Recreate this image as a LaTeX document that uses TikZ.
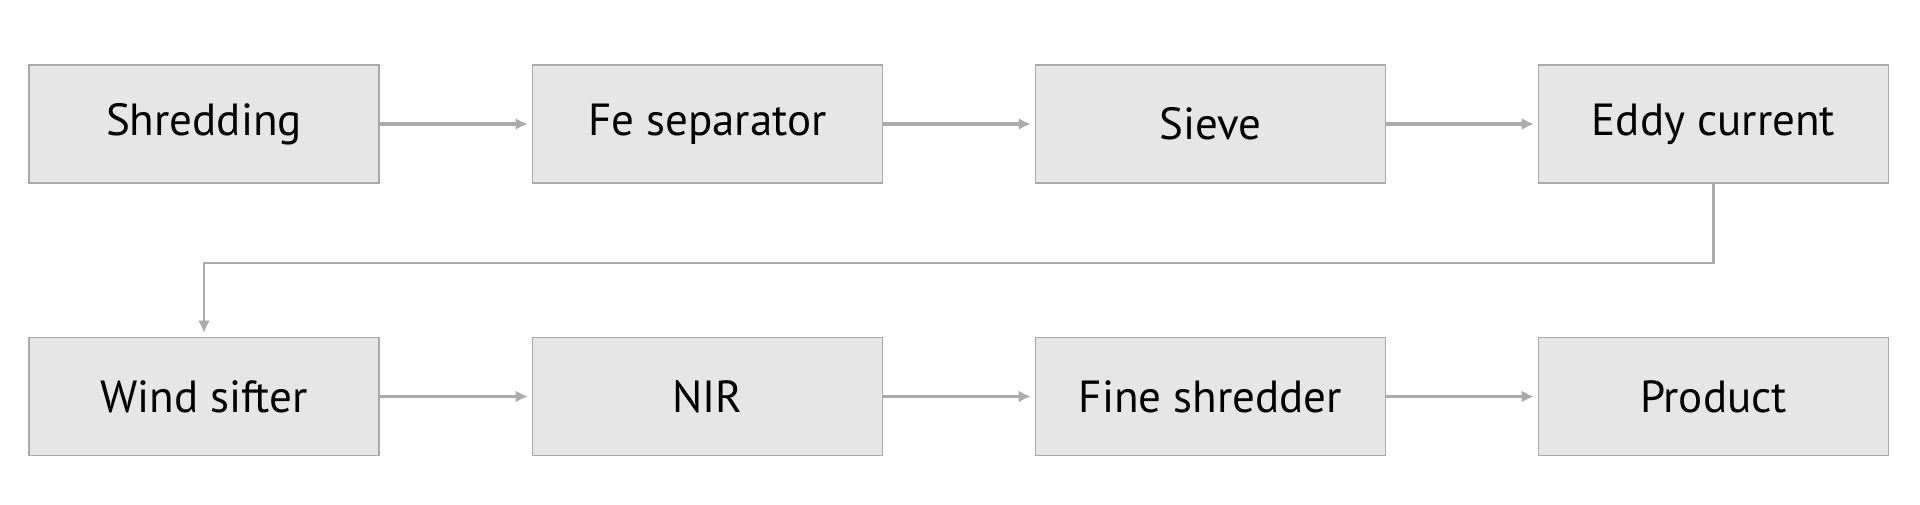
\documentclass[tikz,border=0pt]{standalone}
\usepackage{fontspec}
\setmainfont{PT Sans}
\usepackage{tikz}
\usetikzlibrary{arrows.meta}
\definecolor{boxfill}{HTML}{E6E6E6}
\definecolor{boxline}{HTML}{A9A9A9}
\definecolor{flowline}{HTML}{ABABAB}
\tikzset{
  stage/.style={draw=boxline,fill=boxfill,line width=0.8pt,minimum width=175pt,
    minimum height=59pt,inner sep=0pt,font=\fontsize{22.5}{27}\selectfont},
  flow/.style={draw=flowline,line width=1.8pt,-{Latex[length=6pt,width=6pt]},shorten >=2pt},
  loopback/.style={draw=flowline,line width=1.2pt,-{Latex[length=6pt,width=6pt]},shorten >=2pt}
}

\begin{document}
\begin{tikzpicture}[x=0.5pt,y=-0.5pt]
      \useasboundingbox (0,0) rectangle (1920,504);

      % upper row
      \node[stage] (shred) at (204,124) {Shredding};
      \node[stage] (fesep) at (707.5,124) {Fe separator};
      \node[stage] (sieve) at (1210.5,124) {Sieve};
      \node[stage] (eddy)  at (1713.5,124) {Eddy current};

      % lower row
      \node[stage] (wind)  at (204,396.5) {Wind sifter};
      \node[stage] (nir)   at (707.5,396.5) {NIR};
      \node[stage] (fine)  at (1210.5,396.5) {Fine shredder};
      \node[stage] (prod)  at (1713.5,396.5) {Product};

      \draw[flow] (shred) -- (fesep);
      \draw[flow] (fesep) -- (sieve);
      \draw[flow] (sieve) -- (eddy);
      \draw[loopback] (eddy.south) -- ++(0,79) -| (wind.north);
      \draw[flow] (wind) -- (nir);
      \draw[flow] (nir) -- (fine);
      \draw[flow] (fine) -- (prod);
    \end{tikzpicture}
\end{document}
